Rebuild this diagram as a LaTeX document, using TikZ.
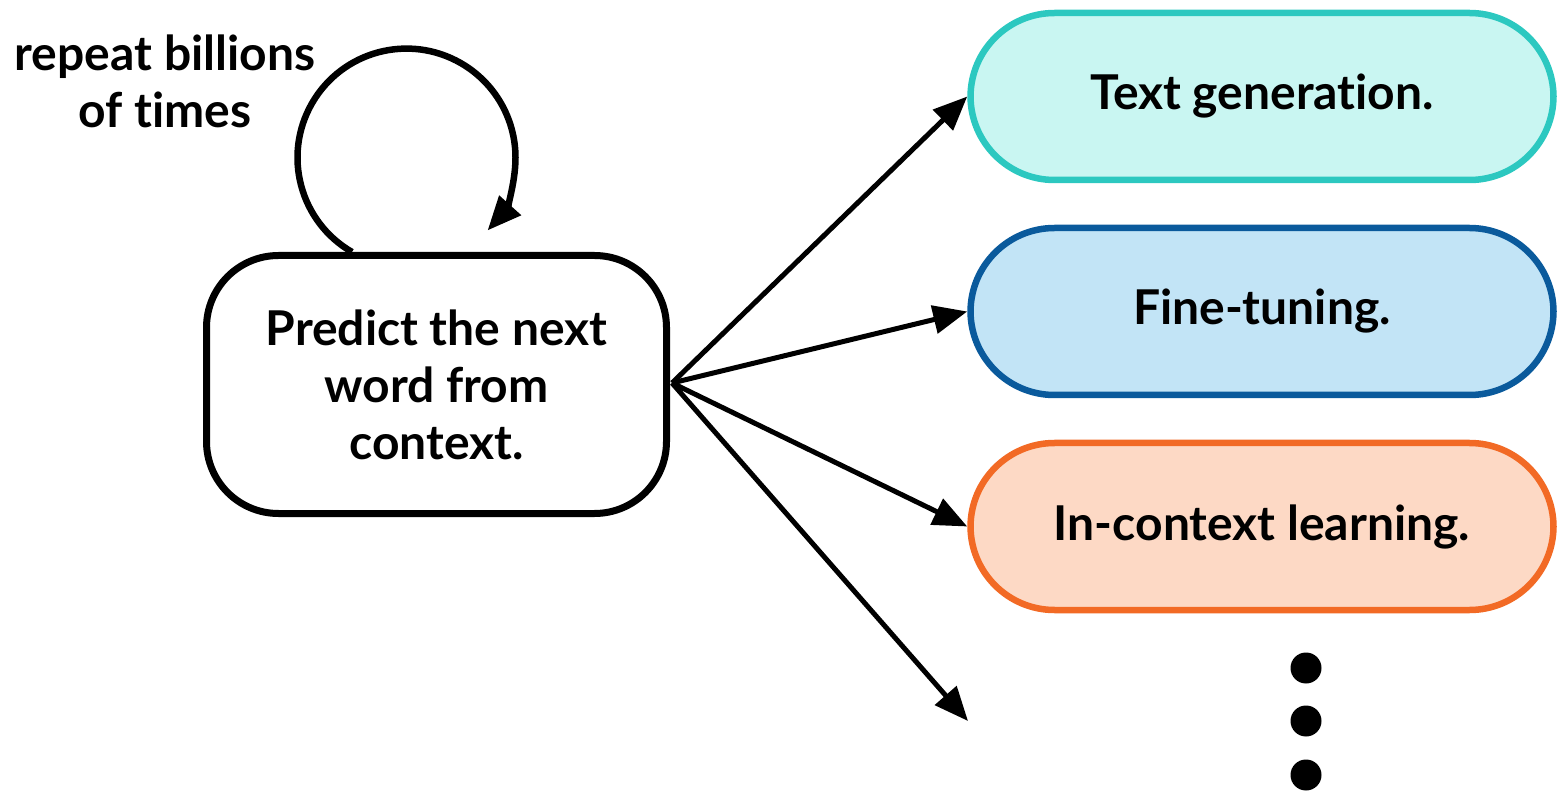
\documentclass[tikz,border=0pt]{standalone}
\usepackage{fontspec}
\setmainfont{Lato}[BoldFont={* Bold}, Ligatures=CommonOff]
\usetikzlibrary{arrows.meta,calc}
\definecolor{tealline}{HTML}{2CC8C0}
\definecolor{tealfill}{HTML}{C9F6F2}
\definecolor{blueline}{HTML}{0A5A9C}
\definecolor{bluefill}{HTML}{C2E4F6}
\definecolor{orangeline}{HTML}{F26A25}
\definecolor{orangefill}{HTML}{FDD9C5}
\tikzset{
  lbl/.style={font=\fontsize{48}{57}\selectfont\bfseries, align=center},
  mainbox/.style={lbl, draw=black, line width=7pt, rounded corners=72pt,
    minimum width=460pt, minimum height=258pt, inner sep=0pt},
  pill/.style={lbl, line width=6.5pt, rounded corners=84pt,
    minimum width=583pt, minimum height=167pt, inner sep=0pt},
  conn/.style={line width=5pt, -{Triangle[length=34pt,width=28pt]}},
}
\begin{document}
\begin{tikzpicture}[x=1pt,y=-1pt]
\useasboundingbox (0,0) rectangle (1559,791);

% central task
\node[mainbox] (main) at (436.5,384.5) {Predict the next\\word from\\context.};

% downstream uses
\node[pill, draw=tealline, fill=tealfill] (gen) at (1262,96.5) {Text generation.};
\node[pill, draw=blueline, fill=bluefill] (ft) at (1262,311.5) {Fine-tuning.};
\node[pill, draw=orangeline, fill=orangefill] (icl) at (1262,526.5) {In-context learning.};

% hub on the right edge of the main box and the open-ended arrow target
\coordinate (hub) at (672,383);
\coordinate (more) at (968,721);

\draw[conn] (hub) -- (gen.west);
\draw[conn] (hub) -- (ft.west);
\draw[conn] (hub) -- (icl.west);
\draw[conn] (hub) -- (more);

% ellipsis below the list
\foreach \y [count=\i] in {668,721,775}
  \fill (1306,\y) circle[radius=15.5pt] node (dot\i) {};

% self-loop on top of the main box
\coordinate (loopstart) at (352,252);
\draw[line width=6.5pt, -{Triangle[length=34pt,width=28pt]}]
  (loopstart) arc[start angle=120, end angle=402, radius=109];
\node[lbl] (rep) at (165,81) {repeat billions\\of times};
\end{tikzpicture}
\end{document}
